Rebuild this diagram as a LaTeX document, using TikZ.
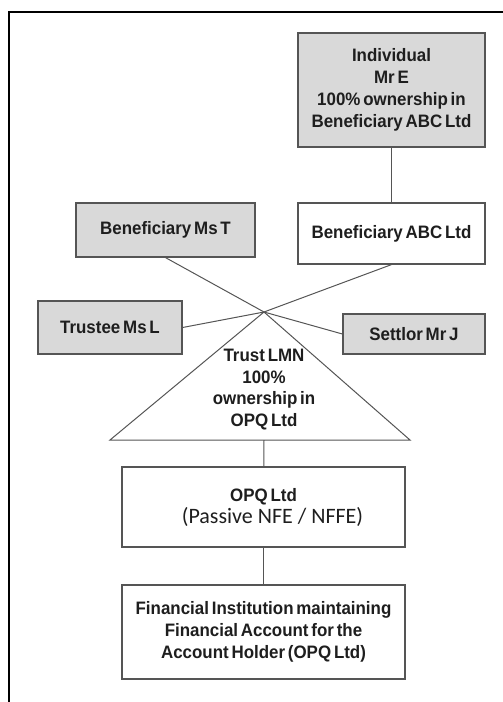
\documentclass[tikz,border=0pt]{standalone}
\usepackage{fontspec}
\setmainfont{Liberation Sans}[FakeStretch=0.94,WordSpace=0.6]
\newfontfamily\calfont{Carlito}
\usetikzlibrary{calc}
\definecolor{boxgray}{HTML}{D9D9D9}
\definecolor{edgegray}{HTML}{555555}
\definecolor{textgray}{HTML}{1E1E1E}
\tikzset{
  party/.style={draw=edgegray, line width=1.2pt, fill=boxgray, align=center,
    inner sep=0pt, text=textgray, font=\bfseries\fontsize{18}{22}\selectfont},
  entity/.style={party, fill=white},
  link/.style={draw=edgegray, line width=1pt}
}

\begin{document}
\begin{tikzpicture}[x=1pt,y=-1pt]
\useasboundingbox (0,0) rectangle (503,702);
% frame
\draw[line width=2.5pt] (9,702) -- (9,12) -- (503,12);
% parties of the trust
\node[party, minimum width=187, minimum height=114] (mrE) at (391.5,90) {Individual\\Mr E\\100\% ownership in\\Beneficiary ABC Ltd};
\node[entity, minimum width=187, minimum height=61] (benABC) at (391.5,233.5) {Beneficiary ABC Ltd};
\node[party, minimum width=179, minimum height=54] (benT) at (165.5,230) {Beneficiary Ms T};
\node[party, minimum width=144, minimum height=53] (trustee) at (110,327.5) {Trustee Ms L};
\node[party, minimum width=142, minimum height=40] (settlor) at (414,334) {Settlor Mr J};
% the trust
\coordinate (apex) at (264,312);
\coordinate (base) at (264,440);
\draw[link, fill=white] (apex) -- (110,440) -- (410,440) -- cycle;
\node[font=\bfseries\fontsize{18}{21.7}\selectfont, text=textgray, align=center] (trust) at (264,389.5) {Trust LMN\\100\%\\ownership in\\OPQ Ltd};
% entity and account
\node[entity, minimum width=283, minimum height=80] (opq) at (263.5,507) {OPQ Ltd\\[0pt]{\calfont\mdseries\fontsize{22}{25}\selectfont\hspace*{18pt}(Passive NFE / NFFE)}};
\node[entity, minimum width=283, minimum height=94] (fi) at (263.5,632) {Financial Institution maintaining\\Financial Account for the\\Account Holder (OPQ Ltd)};
% connectors
\draw[link] (mrE) -- (benABC);
\draw[link] (benT.south) -- (apex) -- (settlor.west);
\draw[link] (benABC.south) -- (apex) -- (trustee.east);
\draw[link] (base) -- (opq);
\draw[link] (opq) -- (fi);
\end{tikzpicture}
\end{document}
